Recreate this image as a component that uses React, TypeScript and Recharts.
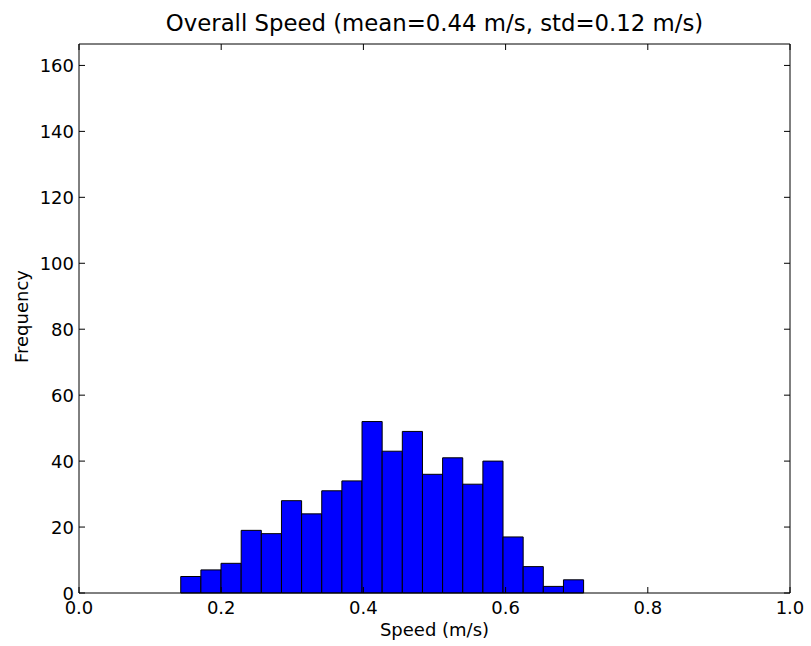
import React from 'react';
import { ComposedChart, XAxis, YAxis, ReferenceArea } from 'recharts';

// histogram bins (left edge, right edge in m/s) and counts
const binStart = 0.1431;
const binWidth = 0.02833;
const counts = [5, 7, 9, 19, 18, 28, 24, 31, 34, 52, 43, 49, 36, 41, 33, 40, 17, 8, 2, 4];
const xTicks = [0, 0.2, 0.4, 0.6, 0.8, 1.0];
const yTicks = [0, 20, 40, 60, 80, 100, 120, 140, 160];

const bins = counts.map((count, i) => ({
  x0: binStart + i * binWidth,
  x1: binStart + (i + 1) * binWidth,
  count,
}));

const FONT = 'DejaVu Sans, sans-serif';
const TICK_LEN = 6;
const FS = 18;

const BottomTick = (props: any) => {
  const { x, y, payload } = props;
  return (
    <g>
      <line x1={x} y1={y} x2={x} y2={y - TICK_LEN} stroke="#000" />
      <text x={x} y={y + 21} textAnchor="middle" fontSize={FS} fontFamily={FONT} fill="#000">
        {payload.value.toFixed(1)}
      </text>
    </g>
  );
};

const LeftTick = (props: any) => {
  const { x, y, payload } = props;
  return (
    <g>
      <line x1={x} y1={y} x2={x + TICK_LEN} y2={y} stroke="#000" />
      <text x={x - 5} y={y + 6.5} textAnchor="end" fontSize={FS} fontFamily={FONT} fill="#000">
        {payload.value}
      </text>
    </g>
  );
};

const TopTick = (props: any) => {
  const { x, y } = props;
  return <line x1={x} y1={y} x2={x} y2={y + TICK_LEN} stroke="#000" />;
};

const RightTick = (props: any) => {
  const { x, y } = props;
  return <line x1={x} y1={y} x2={x - TICK_LEN} y2={y} stroke="#000" />;
};

const App: React.FC = () => {
  return (
    <div style={{ position: 'absolute', left: 0, top: 0, width: 811, height: 646, background: '#fff' }}>
      <div
        style={{
          position: 'absolute',
          left: 79,
          width: 711,
          top: 11.5,
          textAlign: 'center',
          fontFamily: FONT,
          fontSize: 22.8,
          lineHeight: '23px',
          color: '#000',
          whiteSpace: 'nowrap',
        }}
      >
        Overall Speed (mean=0.44 m/s, std=0.12 m/s)
      </div>
      <ComposedChart
        width={811}
        height={646}
        data={bins}
        margin={{ top: 43, right: 20, left: 78, bottom: 52 }}
      >
        <XAxis
          xAxisId="b"
          type="number"
          dataKey="x0"
          domain={[0, 1]}
          ticks={xTicks}
          height={1}
          tickSize={0}
          tickMargin={0}
          tickLine={false}
          tick={<BottomTick />}
          axisLine={{ stroke: '#000' }}
          allowDataOverflow
          interval={0}
          label={{
            content: ({ viewBox }: any) => (
              <text
                x={viewBox.x + viewBox.width / 2}
                y={viewBox.y + 43}
                textAnchor="middle"
                fontSize={FS}
                fontFamily={FONT}
                fill="#000"
              >
                Speed (m/s)
              </text>
            ),
          }}
        />
        <XAxis
          xAxisId="t"
          orientation="top"
          type="number"
          dataKey="x0"
          domain={[0, 1]}
          ticks={xTicks}
          height={1}
          tickSize={0}
          tickMargin={0}
          tickLine={false}
          tick={<TopTick />}
          axisLine={{ stroke: '#000' }}
          allowDataOverflow
          interval={0}
        />
        <YAxis
          yAxisId="l"
          type="number"
          domain={[0, 166.5]}
          ticks={yTicks}
          width={1}
          tickSize={0}
          tickMargin={0}
          tickLine={false}
          tick={<LeftTick />}
          axisLine={{ stroke: '#000' }}
          allowDataOverflow
          interval={0}
          label={{
            content: ({ viewBox }: any) => {
              const cx = 28;
              const cy = viewBox.y + viewBox.height / 2 - 2;
              return (
                <text
                  x={cx}
                  y={cy}
                  transform={`rotate(-90, ${cx}, ${cy})`}
                  textAnchor="middle"
                  fontSize={FS}
                  fontFamily={FONT}
                  fill="#000"
                >
                  Frequency
                </text>
              );
            },
          }}
        />
        <YAxis
          yAxisId="r"
          orientation="right"
          type="number"
          domain={[0, 166.5]}
          ticks={yTicks}
          width={1}
          tickSize={0}
          tickMargin={0}
          tickLine={false}
          tick={<RightTick />}
          axisLine={{ stroke: '#000' }}
          allowDataOverflow
          interval={0}
        />
        {bins.map((b, i) => (
          <ReferenceArea
            key={i}
            xAxisId="b"
            yAxisId="l"
            x1={b.x0}
            x2={b.x1}
            y1={0}
            y2={b.count}
            fill="#0000ff"
            fillOpacity={1}
            stroke="#000"
            strokeWidth={1}
            ifOverflow="visible"
          />
        ))}
      </ComposedChart>
    </div>
  );
};

export default App;
